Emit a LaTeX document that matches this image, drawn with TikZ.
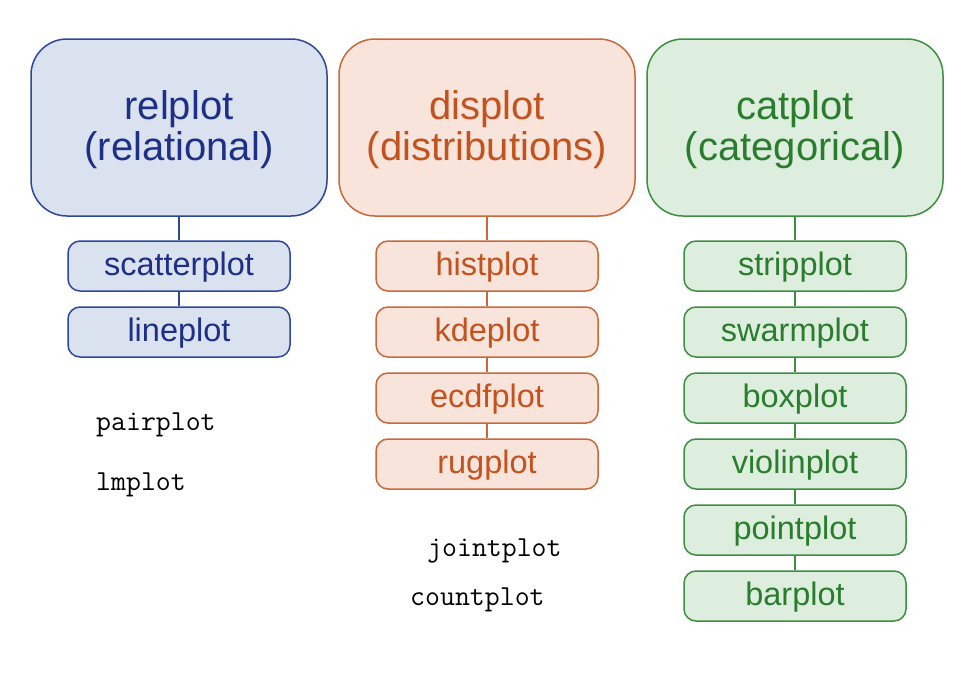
\documentclass[tikz,border=0pt]{standalone}
\usepackage{fontspec}
\setmainfont{Liberation Sans}
\setmonofont{Latin Modern Mono}
\definecolor{bfill}{HTML}{DAE2EF}
\definecolor{bline}{HTML}{2D479C}
\definecolor{btext}{HTML}{1E2F88}
\definecolor{ofill}{HTML}{F8E4DA}
\definecolor{oline}{HTML}{C9683B}
\definecolor{otext}{HTML}{C4521E}
\definecolor{gfill}{HTML}{DDEEDF}
\definecolor{gline}{HTML}{3E8E41}
\definecolor{gtext}{HTML}{2A7D2D}
\newcommand{\bigtxt}[2]{\rule{0pt}{33pt}#1\\#2\rule[-8pt]{0pt}{8pt}}
\begin{document}
\begin{tikzpicture}[x=1pt,y=-1pt,
  bigbox/.style={draw, line width=1.5pt, rounded corners=36pt, minimum width=296pt, minimum height=177pt, align=center, font=\fontsize{40}{41}\selectfont, inner sep=0pt},
  smallbox/.style={draw, line width=1.5pt, rounded corners=12pt, minimum width=222pt, minimum height=50pt, font=\fontsize{32.5}{34}\selectfont, inner sep=0pt, text height=24pt, text depth=6pt},
  blue/.style={fill=bfill, draw=bline, text=btext},
  orange/.style={fill=ofill, draw=oline, text=otext},
  green/.style={fill=gfill, draw=gline, text=gtext},
  plain/.style={font=\ttfamily\fontsize{29}{30}\selectfont, anchor=base west, inner sep=0pt},
  conn/.style={line width=1.3pt}]
\useasboundingbox (0,0) rectangle (980,697);
\fill[white] (0,0) rectangle (980,697);
% big boxes
\node[bigbox, blue] (rel) at (179,127.5) {\bigtxt{relplot}{(relational)}};
\node[bigbox, orange] (dis) at (487,127.5) {\bigtxt{displot}{(distributions)}};
\node[bigbox, green] (cat) at (795,127.5) {\bigtxt{catplot}{(categorical)}};
% blue column
\node[smallbox, blue] (scatter) at (179,266) {scatterplot};
\node[smallbox, blue] (line) at (179,332) {lineplot};
% orange column
\node[smallbox, orange] (hist) at (487,266) {histplot};
\node[smallbox, orange] (kde) at (487,332) {kdeplot};
\node[smallbox, orange] (ecdf) at (487,398) {ecdfplot};
\node[smallbox, orange] (rug) at (487,464) {rugplot};
% green column
\node[smallbox, green] (strip) at (795,266) {stripplot};
\node[smallbox, green] (swarm) at (795,332) {swarmplot};
\node[smallbox, green] (box) at (795,398) {boxplot};
\node[smallbox, green] (violin) at (795,464) {violinplot};
\node[smallbox, green] (point) at (795,530) {pointplot};
\node[smallbox, green] (bar) at (795,596) {barplot};
% connectors
\draw[conn, bline] (rel.south) -- (scatter.north);
\draw[conn, bline] (scatter.south) -- (line.north);
\draw[conn, oline] (dis.south) -- (hist.north);
\draw[conn, oline] (hist.south) -- (kde.north);
\draw[conn, oline] (kde.south) -- (ecdf.north);
\draw[conn, oline] (ecdf.south) -- (rug.north);
\draw[conn, gline] (cat.south) -- (strip.north);
\draw[conn, gline] (strip.south) -- (swarm.north);
\draw[conn, gline] (swarm.south) -- (box.north);
\draw[conn, gline] (box.south) -- (violin.north);
\draw[conn, gline] (violin.south) -- (point.north);
\draw[conn, gline] (point.south) -- (bar.north);
% plain texts
\node[plain] (pair) at (96,430) {pairplot};
\node[plain] (lm) at (96,490) {lmplot};
\node[plain] (joint) at (427,556) {jointplot};
\node[plain] (count) at (410,605) {countplot};
\end{tikzpicture}
\end{document}
